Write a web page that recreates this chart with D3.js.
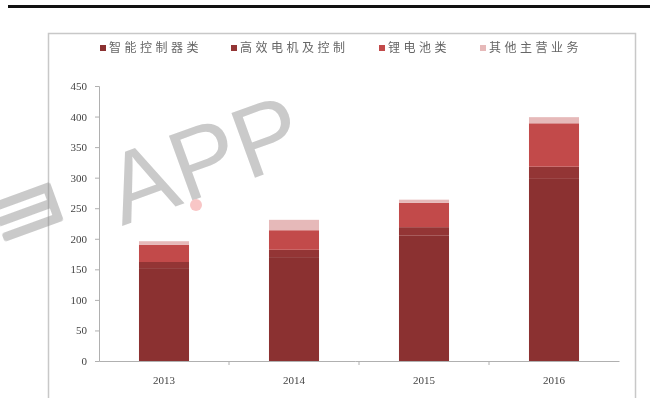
<!DOCTYPE html>
<html><head><meta charset="utf-8">
<script src="https://cdn.jsdelivr.net/npm/d3@7"></script>
<style>
html,body{margin:0;padding:0;background:#fff;}
svg{display:block;font-family:"Noto Sans CJK SC","Liberation Serif",serif;}
</style></head>
<body>
<svg id="c" width="654" height="398"></svg>
<script>
const years = ["2013","2014","2015","2016"];
const seriesNames = ["智能控制器类","高效电机及控制","锂电池类","其他主营业务"];
const s1 = [152,170,205,298];
const s2 = [10,12,14,20];
const s3 = [28,32,40,71];
const s4 = [6,17,5,10];
const yTicks = [0,50,100,150,200,250,300,350,400,450];
const colors = ["#8B3131","#933535","#C24A4A","#E6B9B9"];

(function(){
const svg = d3.select("#c");
svg.append("rect").attr("x",8).attr("y",5).attr("width",642).attr("height",3).attr("fill","#111");
svg.append("rect").attr("x",48.5).attr("y",33.5).attr("width",587).attr("height",380)
  .attr("fill","none").attr("stroke","#c8c8c8").attr("stroke-width",1.5);

const pl=99, pr=619, pt=86, pb=361;
const x = d3.scaleBand().domain(years).range([pl,pr]).padding(0);
const y = d3.scaleLinear().domain([0,450]).range([pb,pt]);

// watermark
const wm = svg.append("g").attr("opacity",0.45);
wm.append("text").attr("transform","translate(122,226) rotate(-20)")
  .attr("font-family","Liberation Sans, Arial, sans-serif").attr("font-size",100)
  .attr("fill","#8a8a8a").text("APP");
wm.append("circle").attr("cx",196).attr("cy",205).attr("r",6).attr("fill","#f08080");
const logo = wm.append("g").attr("transform","translate(0,200) rotate(-20)");
[0,16,32].forEach(o=>{
  logo.append("rect").attr("x",-10).attr("y",o).attr("width",62).attr("height",9).attr("rx",3).attr("fill","#8a8a8a");
});
logo.append("rect").attr("x",44).attr("y",0).attr("width",9).attr("height",41).attr("rx",3).attr("fill","#8a8a8a");

const rows = years.map((yr,i)=>({year:yr, v:[s1[i],s2[i],s3[i],s4[i]]}));
const stack = d3.stack().keys([0,1,2,3]).value((d,k)=>d.v[k]);
const layers = stack(rows);
const bw = x.bandwidth()*0.385;
layers.forEach((layer,k)=>{
  svg.append("g").selectAll("rect").data(layer).join("rect")
    .attr("x",d=>x(d.data.year)+(x.bandwidth()-bw)/2)
    .attr("width",bw)
    .attr("y",d=>y(d[1]))
    .attr("height",d=>y(d[0])-y(d[1]))
    .attr("fill",colors[k]);
});

const ya = svg.append("g").attr("transform",`translate(${pl},0)`)
  .call(d3.axisLeft(y).tickValues(yTicks).tickSize(4).tickPadding(8));
ya.select(".domain").attr("stroke","#b0b0b0");
ya.selectAll(".tick line").attr("stroke","#b0b0b0");
ya.selectAll("text").attr("font-size",11).attr("fill","#444").attr("font-family","Liberation Serif, serif");

const xa = svg.append("g").attr("transform",`translate(0,${pb})`)
  .call(d3.axisBottom(x).tickSize(0).tickPadding(15));
xa.select(".domain").attr("stroke","#b0b0b0");
xa.selectAll("text").attr("font-size",11).attr("fill","#444").attr("font-family","Liberation Serif, serif");
svg.append("g").selectAll("line").data(years.slice(1)).join("line")
  .attr("x1",d=>x(d)).attr("x2",d=>x(d)).attr("y1",pb).attr("y2",pb+4)
  .attr("stroke","#b0b0b0");

const legX = [100,231,379,480];
const lg = svg.append("g");
seriesNames.forEach((n,i)=>{
  lg.append("rect").attr("x",legX[i]).attr("y",45).attr("width",6).attr("height",6).attr("fill",colors[i]);
  lg.append("text").attr("x",legX[i]+9).attr("y",52).attr("font-size",12)
    .attr("letter-spacing","3.5px").attr("fill","#666").text(n);
});
})();
</script>
</body></html>
